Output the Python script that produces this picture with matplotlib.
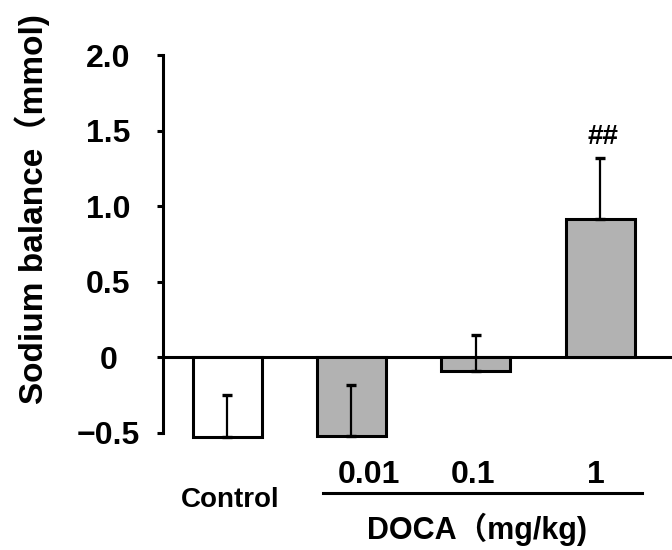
import numpy as np
import matplotlib
matplotlib.use("Agg")
import matplotlib.pyplot as plt
import matplotlib.transforms as mtransforms

# data
groups = ["Control", "0.01", "0.1", "1"]
means = [-0.53, -0.525, -0.088, 0.918]
sem = [0.28, 0.34, 0.232, 0.40]
fills = ["white", "#b2b2b2", "#b2b2b2", "#b2b2b2"]
sig = ["", "", "", "##"]
yticks = [-0.5, 0, 0.5, 1.0, 1.5, 2.0]
ytick_labels = ["−0.5", "0", "0.5", "1.0", "1.5", "2.0"]

lat = ["Liberation Sans", "Noto Sans CJK JP", "DejaVu Sans"]
plt.rcParams["font.family"] = lat
plt.rcParams["font.weight"] = "bold"

fig = plt.figure(figsize=(6.72, 5.5), dpi=100)
ax = fig.add_axes([0.2426, 0.2133, 0.7574, 0.686])

x = np.arange(len(groups))
bars = ax.bar(x, means, width=0.555, color=fills, edgecolor="black",
              linewidth=2.2, zorder=2, clip_on=False)
lower = np.zeros(len(sem))
eb = ax.errorbar(x, means, yerr=[lower, sem], fmt="none", ecolor="black",
                 elinewidth=1.6, capsize=3.8, capthick=2.4, zorder=3)
for art in eb.lines[1] + eb.lines[2]:
    art.set_clip_on(False)

for xi, m, e, s in zip(x, means, sem, sig):
    if s:
        ax.text(xi + 0.02, m + e + 0.14, s, ha="center", va="center", fontsize=20)

ax.axhline(0, color="black", lw=2.2, zorder=1)

ax.set_xlim(-0.516, 3.578)
ax.set_ylim(-0.5, 2.0)
ax.set_yticks(yticks)
ax.set_yticklabels(ytick_labels)
ax.tick_params(axis="y", direction="out", length=4.3, width=2.2, pad=35, labelsize=23)
for lbl in ax.get_yticklabels():
    lbl.set_horizontalalignment("center")
ax.set_xticks([])
for side in ["top", "right", "bottom"]:
    ax.spines[side].set_visible(False)
ax.spines["left"].set_linewidth(2.2)

# group labels under the bars
trans = mtransforms.blended_transform_factory(ax.transData, ax.transAxes)
label_x = [0.023, 1.14, 1.977, 2.966]
label_y = [-0.178, -0.112, -0.112, -0.112]
label_size = [20, 23, 23, 23]
for lx, ly, g, fs in zip(label_x, label_y, groups, label_size):
    ax.text(lx, ly, g, transform=trans, ha="center", va="center", fontsize=fs)
ax.plot([0.77, 3.334], [-0.161, -0.161], color="black", lw=2.2,
        transform=trans, clip_on=False)
ax.text(2.009, -0.255, "DOCA（mg/kg)", transform=trans, ha="center", va="center",
        fontsize=22)

fig.text(32 / 672, 1 - 209 / 550, "Sodium balance（mmol)", rotation=90,
         ha="center", va="center", fontsize=24)

fig.savefig("out.png", dpi=100)
